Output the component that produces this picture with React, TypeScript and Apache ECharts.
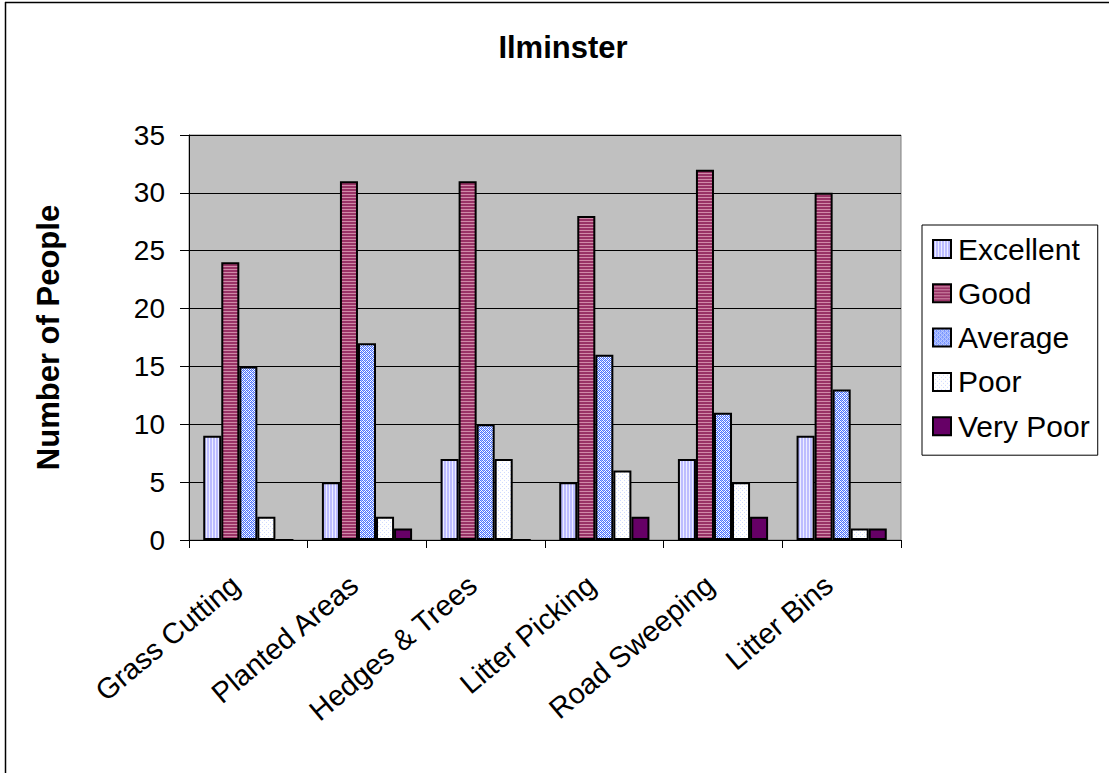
import React, { useEffect, useRef } from "react";
import * as echarts from "echarts";

const categories = [
  "Grass Cutting",
  "Planted Areas",
  "Hedges & Trees",
  "Litter Picking",
  "Road Sweeping",
  "Litter Bins",
];
const excellent = [9, 5, 7, 5, 7, 9];
const good = [24, 31, 31, 28, 32, 30];
const average = [15, 17, 10, 16, 11, 13];
const poor = [2, 2, 7, 6, 5, 1];
const veryPoor = [0, 1, 0, 2, 2, 1];
const yTicks = [0, 5, 10, 15, 20, 25, 30, 35];

const FONT = "Arial, 'Liberation Sans', sans-serif";

// Small tiled canvases used as hatched bar fills
function makePattern(
  w: number,
  h: number,
  paint: (ctx: CanvasRenderingContext2D) => void
): HTMLCanvasElement {
  const c = document.createElement("canvas");
  c.width = w;
  c.height = h;
  const ctx = c.getContext("2d")!;
  paint(ctx);
  return c;
}

function px(ctx: CanvasRenderingContext2D, x: number, y: number, color: string) {
  ctx.fillStyle = color;
  ctx.fillRect(x, y, 1, 1);
}

function buildFills() {
  const vStripes = makePattern(3, 3, (ctx) => {
    ctx.fillStyle = "#bcbcff";
    ctx.fillRect(0, 0, 3, 3);
    ctx.fillStyle = "#ececff";
    ctx.fillRect(2, 0, 1, 3);
  });
  const hStripes = makePattern(3, 3, (ctx) => {
    ctx.fillStyle = "#993366";
    ctx.fillRect(0, 0, 3, 3);
    ctx.fillStyle = "#d08aa8";
    ctx.fillRect(0, 2, 3, 1);
  });
  const checker = makePattern(4, 4, (ctx) => {
    ctx.fillStyle = "#ffffff";
    ctx.fillRect(0, 0, 4, 4);
    for (let y = 0; y < 4; y++) {
      for (let x = 0; x < 4; x++) {
        if ((x + y) % 2 === 0) px(ctx, x, y, "#4d73ff");
      }
    }
    px(ctx, 1, 0, "#a8baff");
    px(ctx, 3, 2, "#a8baff");
  });
  const dots = makePattern(4, 4, (ctx) => {
    ctx.fillStyle = "#ffffff";
    ctx.fillRect(0, 0, 4, 4);
    px(ctx, 0, 0, "#d0daff");
    px(ctx, 2, 2, "#d0daff");
  });
  return {
    excellent: { image: vStripes, repeat: "repeat" },
    good: { image: hStripes, repeat: "repeat" },
    average: { image: checker, repeat: "repeat" },
    poor: { image: dots, repeat: "repeat" },
    veryPoor: "#660066",
  };
}

export default function App() {
  const ref = useRef<HTMLDivElement>(null);

  useEffect(() => {
    document.body.style.margin = "0";
    if (!ref.current) return;
    const chart = echarts.init(ref.current, undefined, { renderer: "svg" });
    const fills = buildFills();

    const mkSeries = (name: string, data: number[], color: any) => ({
      name,
      type: "bar",
      data,
      barGap: "0%",
      barCategoryGap: "24%",
      itemStyle: { color, borderColor: "#000000", borderWidth: 2 },
    });

    chart.setOption({
      animation: false,
      backgroundColor: "#ffffff",
      textStyle: { fontFamily: FONT },
      title: {
        text: "Ilminster",
        left: 558,
        textAlign: "center",
        top: 27,
        textStyle: { fontSize: 31, fontWeight: "bold", color: "#000", fontFamily: FONT },
      },
      legend: {
        orient: "vertical",
        left: 922,
        top: 225,
        padding: [9, 8, 14, 10],
        borderColor: "#000000",
        borderWidth: 1,
        itemWidth: 18,
        itemHeight: 18,
        itemGap: 14.3,
        itemStyle: { borderColor: "#000000", borderWidth: 2 },
        textStyle: { fontSize: 30, color: "#000", fontFamily: FONT, padding: [0, 0, 0, 2] },
        icon: "rect",
        data: ["Excellent", "Good", "Average", "Poor", "Very Poor"],
      },
      grid: {
        left: 189,
        top: 135,
        width: 712,
        height: 405,
        show: true,
        backgroundColor: "#c0c0c0",
        borderColor: "#808080",
        borderWidth: 1,
      },
      xAxis: {
        type: "category",
        data: categories,
        axisLine: { show: true, lineStyle: { color: "#000", width: 1 } },
        axisTick: { show: true, alignWithLabel: false, length: 8, lineStyle: { color: "#000" } },
        axisLabel: {
          interval: 0,
          rotate: 40,
          fontSize: 29,
          color: "#000",
          fontFamily: FONT,
          margin: 30,
          padding: [0, 17, 0, 0],
        },
      },
      yAxis: {
        type: "value",
        min: yTicks[0],
        max: yTicks[yTicks.length - 1],
        interval: 5,
        name: "Number of People",
        nameLocation: "middle",
        nameGap: 125,
        nameRotate: 90,
        nameTextStyle: { fontSize: 31, fontWeight: "bold", color: "#000", fontFamily: FONT },
        axisLine: { show: true, lineStyle: { color: "#000", width: 1 } },
        axisTick: { show: true, length: 9, lineStyle: { color: "#000" } },
        axisLabel: { fontSize: 28, color: "#000", fontFamily: FONT, margin: 24 },
        splitLine: { show: true, lineStyle: { color: "#000", width: 1 } },
      },
      series: [
        mkSeries("Excellent", excellent, fills.excellent),
        mkSeries("Good", good, fills.good),
        mkSeries("Average", average, fills.average),
        mkSeries("Poor", poor, fills.poor),
        mkSeries("Very Poor", veryPoor, fills.veryPoor),
      ],
      graphic: [
        {
          type: "line",
          shape: { x1: 5, y1: 2.5, x2: 1109, y2: 2.5 },
          style: { stroke: "#000", lineWidth: 1.5 },
        },
        {
          type: "line",
          shape: { x1: 5.5, y1: 2, x2: 5.5, y2: 773 },
          style: { stroke: "#000", lineWidth: 1.5 },
        },
      ],
    });

    return () => chart.dispose();
  }, []);

  return <div ref={ref} style={{ width: 1109, height: 773 }} />;
}
